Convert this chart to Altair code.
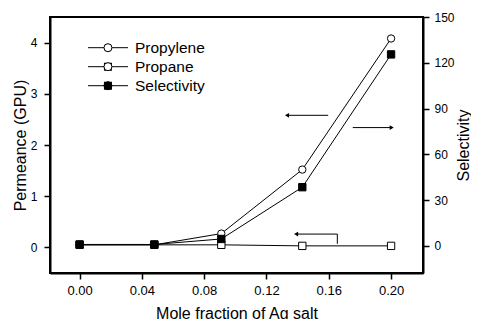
import altair as alt
import pandas as pd

# ---- data ----
mole_fraction = [0.0, 0.048, 0.091, 0.143, 0.200]
propylene = [0.05, 0.05, 0.27, 1.52, 4.08]     # GPU, left axis
propane = [0.05, 0.05, 0.05, 0.03, 0.03]       # GPU, left axis
selectivity = [1.0, 1.0, 4.6, 38.5, 125.5]     # right axis
series_names = ["Propylene", "Propane", "Selectivity"]

x_ticks = [0.0, 0.04, 0.08, 0.12, 0.16, 0.20]
yl_ticks = [0, 1, 2, 3, 4]
yr_ticks = [0, 30, 60, 90, 120, 150]

# annotation arrows (data units: x = mole fraction, y = permeance)
arrow_x = [0.1596, 0.1754, 0.1655, 0.1655]
arrow_x2 = [0.1332, 0.2004, 0.1655, 0.1390]
arrow_y = [2.58, 2.34, 0.07, 0.26]
arrow_y2 = [2.58, 2.34, 0.26, 0.26]
head_x = [0.1332, 0.2004, 0.1390]
head_y = [2.58, 2.34, 0.26]
head_shape = ["triangle-left", "triangle-right", "triangle-left"]

FONT = "Liberation Sans"

left_df = pd.DataFrame({
    "x": mole_fraction * 2,
    "y": propylene + propane,
    "series": ["Propylene"] * 5 + ["Propane"] * 5,
})
left_df["label"] = left_df["series"]
right_df = pd.DataFrame({"x": mole_fraction, "y": selectivity, "series": ["Selectivity"] * 5})
right_df["label"] = right_df["series"]
arrow_df = pd.DataFrame({"x": arrow_x, "x2": arrow_x2, "y": arrow_y, "y2": arrow_y2})
head_df = pd.DataFrame({"x": head_x, "y": head_y, "shape": head_shape})

xscale = alt.Scale(domain=[-0.019, 0.2205], nice=False, zero=False)
ylscale = alt.Scale(domain=[-0.5, 4.5], nice=False, zero=False)
yrscale = alt.Scale(domain=[-17.7, 150], nice=False, zero=False)
color_scale = alt.Scale(domain=series_names, range=["black", "black", "black"])
# shape / fill use a data-driven domain (sorted) so their legend stays separate
shape_scale = alt.Scale(range=["circle", "square", "square"])
fill_scale = alt.Scale(range=["white", "white", "black"])

x_axis = alt.Axis(values=x_ticks, format=".2f", title="Mole fraction of Ag salt",
                  titlePadding=8, labelFontSize=13)
yl_axis = alt.Axis(values=yl_ticks, format="d", title="Permeance (GPU)", titlePadding=2,
                   labelPadding=7)
yr_axis = alt.Axis(values=yr_ticks, format="d", title="Selectivity", orient="right",
                   titleAngle=270, titleBaseline="top", titlePadding=1)

legend_lines = alt.Legend(title=None, orient="none", legendX=37.5, legendY=21.2,
                          symbolType="stroke", symbolSize=1600, symbolStrokeWidth=1,
                          labelFontSize=15.5, labelFont=FONT, labelColor="black",
                          labelOffset=6.5, clipHeight=19, padding=0, rowPadding=0)
legend_marks = alt.Legend(title=None, orient="none", legendX=50.2, legendY=21.2,
                          symbolSize=64, symbolStrokeColor="black", symbolStrokeWidth=1,
                          labelExpr="''", labelFontSize=15.5, labelFont=FONT,
                          clipHeight=19, padding=0, rowPadding=0)

line_left = alt.Chart(left_df).mark_line(strokeWidth=1).encode(
    x=alt.X("x:Q", scale=xscale, axis=x_axis),
    y=alt.Y("y:Q", scale=ylscale, axis=yl_axis),
    color=alt.Color("series:N", scale=color_scale, legend=legend_lines),
)
arrows = alt.Chart(arrow_df).mark_rule(strokeWidth=1, color="black").encode(
    x="x:Q", x2="x2:Q", y="y:Q", y2="y2:Q",
)
heads = alt.Chart(head_df).mark_point(filled=True, color="black", size=22, opacity=1).encode(
    x="x:Q", y="y:Q",
    shape=alt.Shape("shape:N", scale=None),
)
pts_left = alt.Chart(left_df).mark_point(filled=True, size=54, stroke="black",
                                         strokeWidth=1, opacity=1).encode(
    x="x:Q", y="y:Q",
    shape=alt.Shape("label:N", scale=shape_scale, sort=series_names, legend=legend_marks),
    fill=alt.Fill("label:N", scale=fill_scale, sort=series_names, legend=legend_marks),
)

line_right = alt.Chart(right_df).mark_line(strokeWidth=1).encode(
    x="x:Q",
    y=alt.Y("y:Q", scale=yrscale, axis=yr_axis),
    color=alt.Color("series:N", scale=color_scale, legend=legend_lines),
)
pts_right = alt.Chart(right_df).mark_point(filled=True, size=54, stroke="black",
                                           strokeWidth=1, opacity=1).encode(
    x="x:Q", y="y:Q",
    shape=alt.Shape("label:N", scale=shape_scale, sort=series_names, legend=legend_marks),
    fill=alt.Fill("label:N", scale=fill_scale, sort=series_names, legend=legend_marks),
)

left = alt.layer(line_left, arrows, heads, pts_left)
right = alt.layer(line_right, pts_right)

chart = alt.layer(left, right).resolve_scale(y="independent").properties(
    width=373, height=256,
    padding={"left": 42, "top": 9, "right": 48, "bottom": 46},
    autosize="none",
    background="white",
).configure_view(
    stroke="black", strokeWidth=2,
).configure_axis(
    grid=False,
    labelFont=FONT, titleFont=FONT,
    labelFontSize=12, titleFontSize=16, titleFontWeight="normal",
    labelColor="black", titleColor="black",
    domainColor="black", domainWidth=2,
    tickColor="black", tickWidth=1.5, tickSize=6, labelPadding=5,
)

chart.save("out.html", embed_options={"renderer": "svg", "actions": False})
